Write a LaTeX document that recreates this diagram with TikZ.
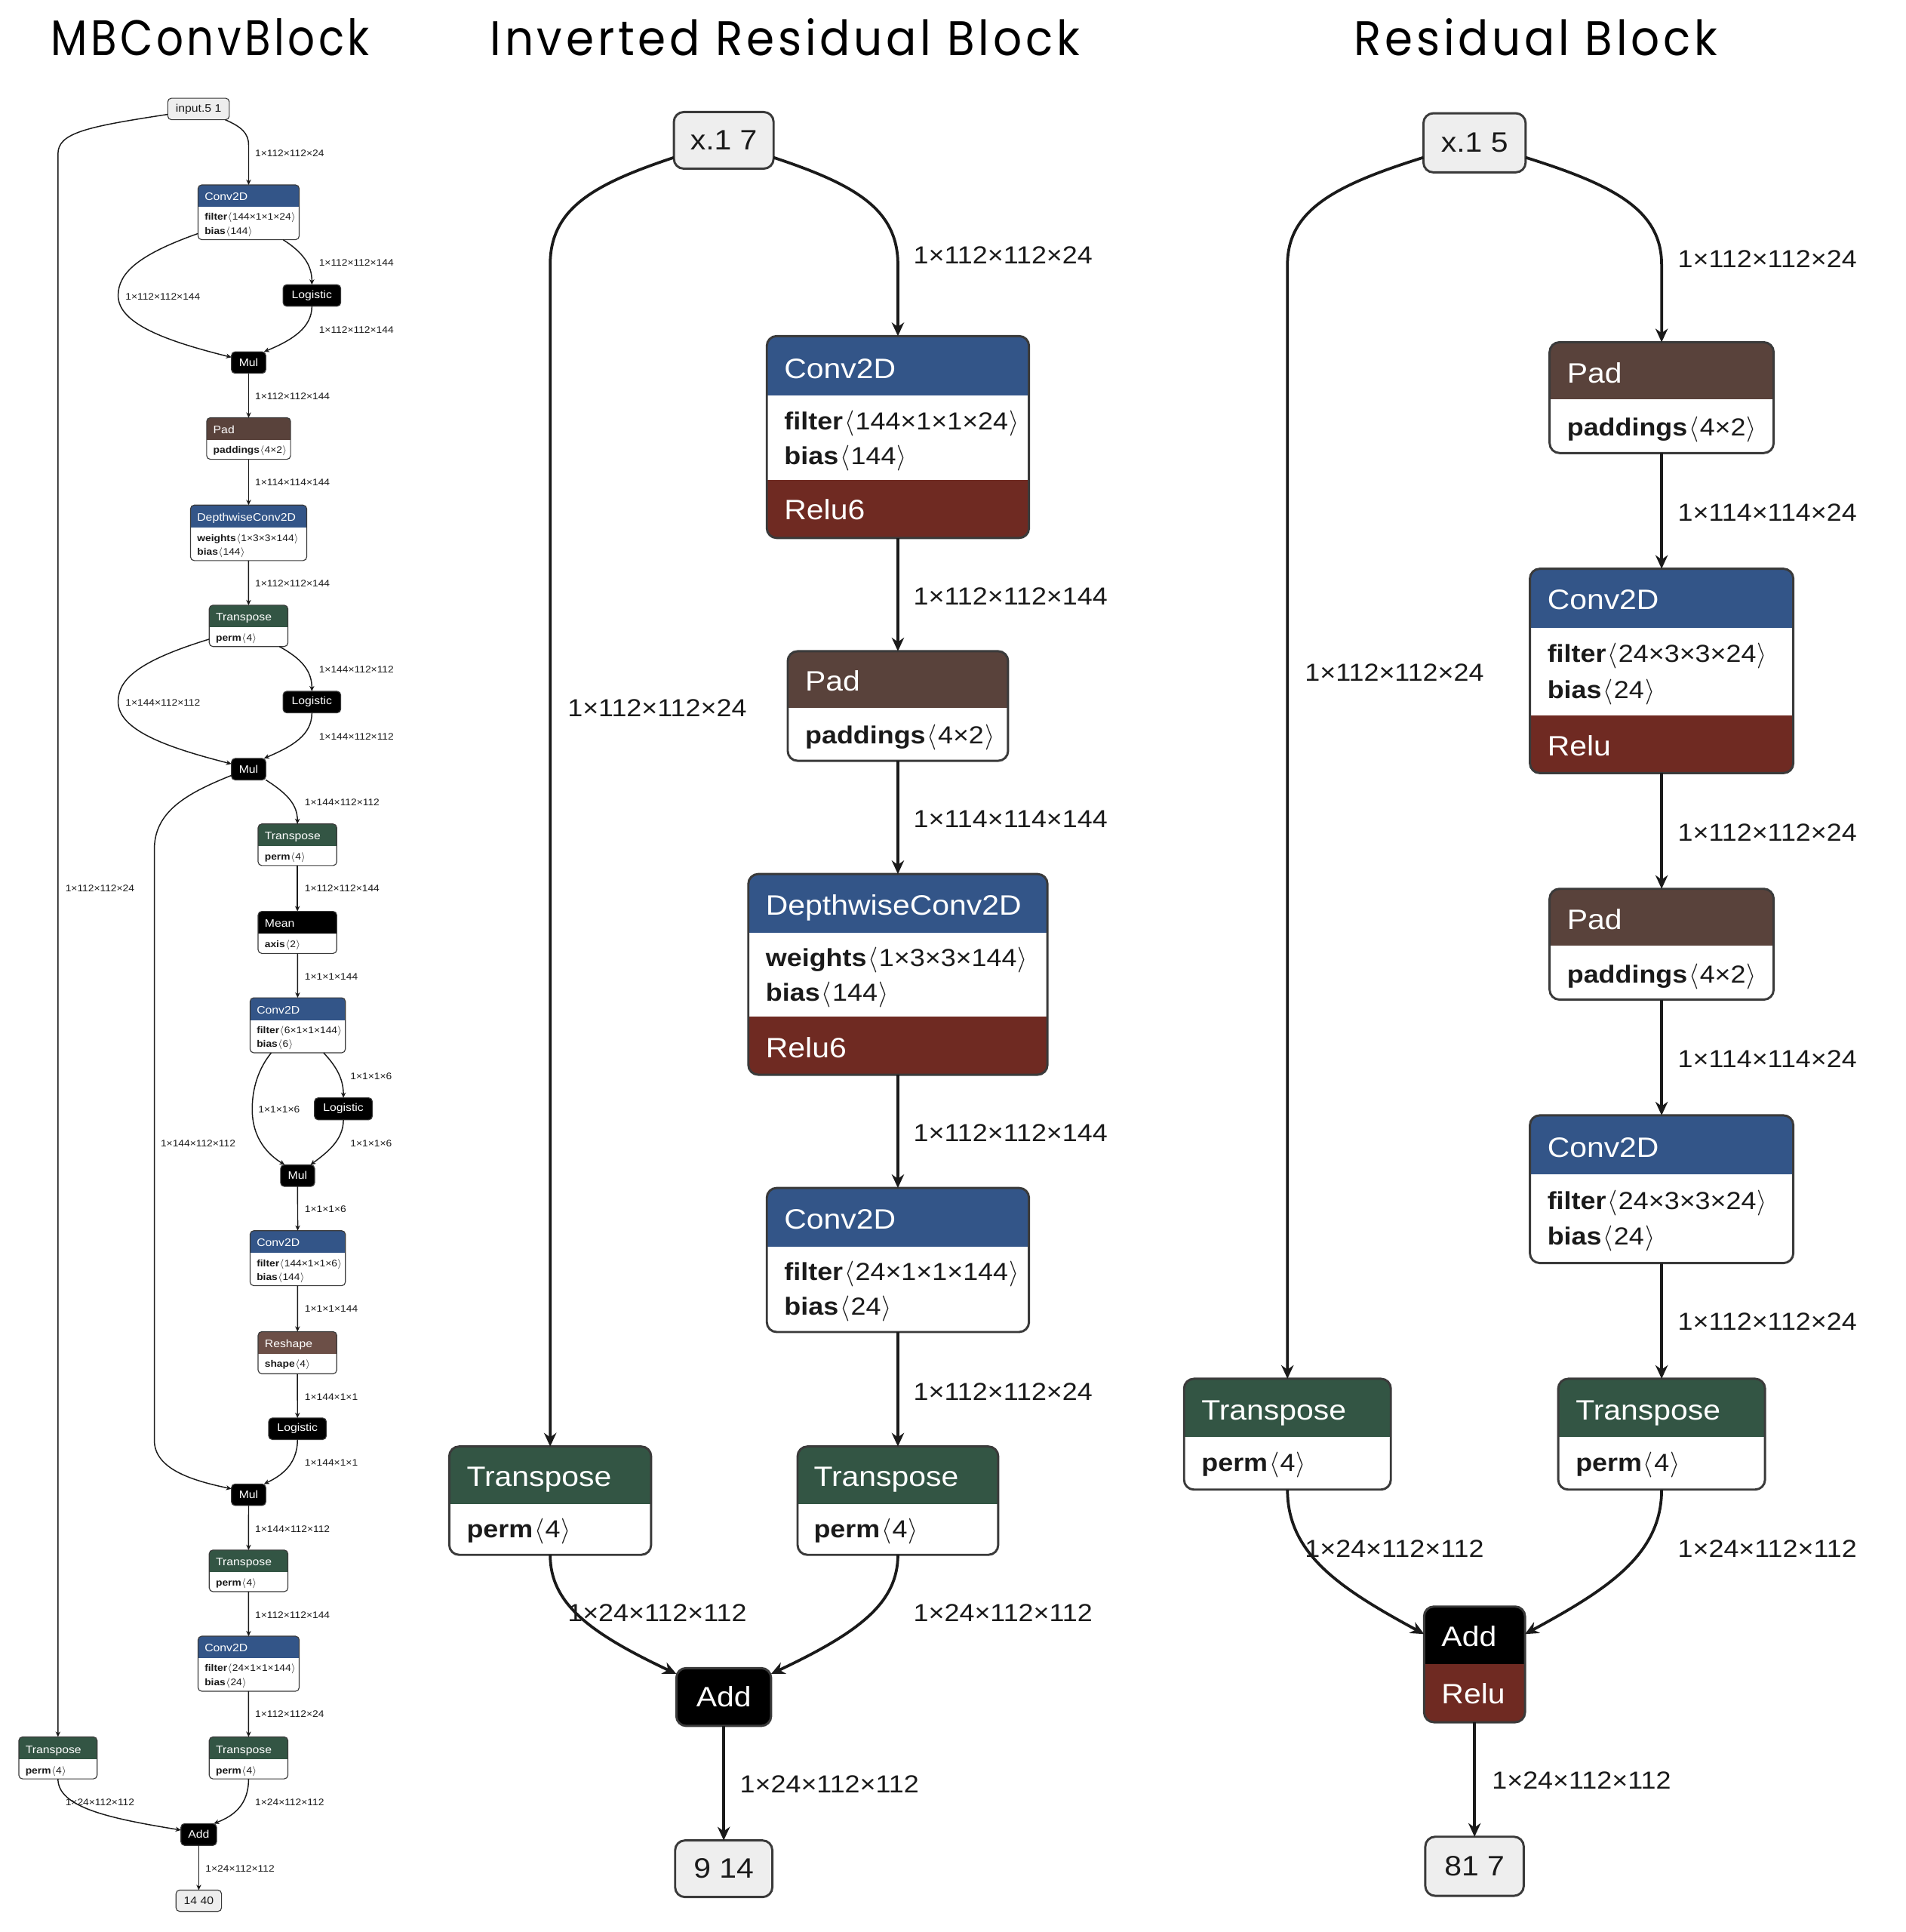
\documentclass[tikz,border=0pt]{standalone}
\usepackage{fontspec}
\usepackage{graphicx}
\setmainfont[FakeStretch=1.1]{Liberation Sans}
\newfontfamily\titlefont[LetterSpace=8]{Poppins}
\usetikzlibrary{arrows.meta}
\definecolor{cblue}{HTML}{335588}
\definecolor{cred}{HTML}{6F2A22}
\definecolor{ctensor}{HTML}{59423B}
\definecolor{cshape}{HTML}{6C4F47}
\definecolor{cgreen}{HTML}{335544}
\definecolor{iofill}{HTML}{EEEEEE}
\definecolor{bord}{HTML}{3A3A3A}
\definecolor{ink}{HTML}{1A1A1A}
\newcommand\att[2]{\textbf{#1}\kern0.06em$\langle$\kern0.04em#2\kern0.04em$\rangle$}
\newcommand\boxnode[6]{\node[#6, minimum width={#4-#2}, minimum height={#5-#3}] (#1) at ({(#2+#4)/2},{(#3+#5)/2}) {};}
\newcommand\band[5]{\begin{scope}\clip[rounded corners=#5] (#1.north west) rectangle (#1.south east);
  \fill[#4] (#1.west |- 0,#2) rectangle (#1.east |- 0,#3);\end{scope}}
\newcommand\outline[3]{\draw[#2, rounded corners=#3] (#1.north west) rectangle (#1.south east);}
\tikzset{
  mbox/.style={fill=white, rounded corners=8pt, inner sep=0pt, outer sep=0pt},
  sbox/.style={fill=white, rounded corners=3pt, inner sep=0pt, outer sep=0pt},
  mline/.style={draw=bord, line width=1.8pt},
  sline/.style={draw=bord, line width=0.7pt},
  mhd/.style={anchor=base west, inner sep=0pt, text=white, font=\fontsize{22.8}{27}\selectfont},
  matt/.style={anchor=base west, inner sep=0pt, text=ink, font=\fontsize{20}{24}\selectfont},
  mlab/.style={anchor=base west, inner sep=0pt, text=ink, font=\fontsize{20}{24}\selectfont},
  shd/.style={anchor=base west, inner sep=0pt, text=white, font=\fontsize{8.8}{10}\selectfont},
  satt/.style={anchor=base west, inner sep=0pt, text=ink, font=\fontsize{7.7}{9}\selectfont},
  slab/.style={anchor=base west, inner sep=0pt, text=ink, font=\fontsize{7.7}{9}\selectfont},
  mio/.style={fill=iofill, draw=bord, line width=1.8pt, rounded corners=8pt, inner sep=0pt, outer sep=0pt, text=ink, font=\fontsize{22.8}{27}\selectfont},
  sio/.style={fill=iofill, draw=bord, line width=0.7pt, rounded corners=3pt, inner sep=0pt, outer sep=0pt, text=ink, font=\fontsize{8.8}{10}\selectfont},
  mblk/.style={fill=black, draw=bord, line width=1.8pt, rounded corners=8pt, inner sep=0pt, outer sep=0pt, text=white, font=\fontsize{22.8}{27}\selectfont},
  sblk/.style={fill=black, draw=bord, line width=0.7pt, rounded corners=3pt, inner sep=0pt, outer sep=0pt, text=white, font=\fontsize{8.8}{10}\selectfont},
  medge/.style={draw=ink, line width=2.3pt, -{Stealth[length=11pt,width=10pt,inset=3.5pt]}},
  sedge/.style={draw=ink, line width=0.9pt, -{Stealth[length=4.3pt,width=3.9pt,inset=1.3pt]}},
  ttl/.style={anchor=base west, inner sep=0pt, text=black}
}
\begin{document}
\begin{tikzpicture}[x=1pt,y=-1pt]
\useasboundingbox[fill=white] (0,0) rectangle (1548,1569.4);
% ---------------- titles
\node[ttl] (ttl1) at (41,45) {\resizebox{259pt}{30pt}{\titlefont MBConvBlock}};
\node[ttl] (ttl2) at (398,45) {\resizebox{479pt}{30pt}{\titlefont Inverted Residual Block}};
\node[ttl] (ttl3) at (1100,45) {\resizebox{295pt}{30pt}{\titlefont Residual Block}};

% ================= MIDDLE: Inverted Residual Block
\node[mio, minimum width=81pt, minimum height=46pt] (m_in) at (588,114) {x.1 7};
\boxnode{m_conv1}{623}{273}{836}{437}{mbox}
\band{m_conv1}{273}{321}{cblue}{8pt}
\band{m_conv1}{390}{437}{cred}{8pt}
\outline{m_conv1}{mline}{8pt}
\node[mhd] (m_conv1_t) at (637,307.2) {Conv2D};
\node[matt] (m_conv1_a) at (637,349.2) {\att{filter}{144×1×1×24}};
\node[matt] (m_conv1_b) at (637,377.2) {\att{bias}{144}};
\node[mhd] (m_conv1_r) at (637,422.2) {Relu6};

\boxnode{m_pad}{640}{529}{819}{618}{mbox}
\band{m_pad}{529}{575}{ctensor}{8pt}
\outline{m_pad}{mline}{8pt}
\node[mhd] (m_pad_t) at (654,561.2) {Pad};
\node[matt] (m_pad_a) at (654,604.2) {\att{paddings}{4×2}};

\boxnode{m_dw}{608}{710}{851}{873}{mbox}
\band{m_dw}{710}{758}{cblue}{8pt}
\band{m_dw}{826}{873}{cred}{8pt}
\outline{m_dw}{mline}{8pt}
\node[mhd] (m_dw_t) at (622,743.2) {DepthwiseConv2D};
\node[matt] (m_dw_a) at (622,785.2) {\att{weights}{1×3×3×144}};
\node[matt] (m_dw_b) at (622,813.2) {\att{bias}{144}};
\node[mhd] (m_dw_r) at (622,859.2) {Relu6};

\boxnode{m_conv2}{623}{965}{836}{1082}{mbox}
\band{m_conv2}{965}{1013}{cblue}{8pt}
\outline{m_conv2}{mline}{8pt}
\node[mhd] (m_conv2_t) at (637,998.2) {Conv2D};
\node[matt] (m_conv2_a) at (637,1040.2) {\att{filter}{24×1×1×144}};
\node[matt] (m_conv2_b) at (637,1068.2) {\att{bias}{24}};

\boxnode{m_trR}{648}{1175}{811}{1263}{mbox}
\band{m_trR}{1175}{1222}{cgreen}{8pt}
\outline{m_trR}{mline}{8pt}
\node[mhd] (m_trR_t) at (661,1207.2) {Transpose};
\node[matt] (m_trR_a) at (661,1249.2) {\att{perm}{4}};

\boxnode{m_trL}{365}{1175}{529}{1263}{mbox}
\band{m_trL}{1175}{1222}{cgreen}{8pt}
\outline{m_trL}{mline}{8pt}
\node[mhd] (m_trL_t) at (379,1207.2) {Transpose};
\node[matt] (m_trL_a) at (379,1249.2) {\att{perm}{4}};

\node[mblk, minimum width=77pt, minimum height=47pt] (m_add) at (588,1378.5) {Add};
\node[mio, minimum width=79pt, minimum height=46pt] (m_out) at (588,1518) {9 14};

\draw[medge] (m_in.-19) .. controls (695,150) and (729.5,170) .. (729.5,215) -- (m_conv1.north);
\draw[medge] (m_in.199) .. controls (481,150) and (447,170) .. (447,215) -- (m_trL.north);
\draw[medge] (m_conv1) -- (m_pad);
\draw[medge] (m_pad) -- (m_dw);
\draw[medge] (m_dw) -- (m_conv2);
\draw[medge] (m_conv2) -- (m_trR);
\draw[medge] (m_trL.south) .. controls (447,1302) and (478,1326) .. (m_add.154);
\draw[medge] (m_trR.south) .. controls (729.5,1302) and (698,1326) .. (m_add.26);
\draw[medge] (m_add) -- (m_out);

\node[mlab] (m_l1) at (742,214.2) {1×112×112×24};
\node[mlab] (m_l2) at (742,491.2) {1×112×112×144};
\node[mlab] (m_l3) at (742,672.2) {1×114×114×144};
\node[mlab] (m_l4) at (742,927.2) {1×112×112×144};
\node[mlab] (m_l5) at (742,1137.2) {1×112×112×24};
\node[mlab] (m_l6) at (461,582.2) {1×112×112×24};
\node[mlab] (m_l7) at (461,1317.2) {1×24×112×112};
\node[mlab] (m_l8) at (742,1317.2) {1×24×112×112};
\node[mlab] (m_l9) at (601,1456.2) {1×24×112×112};

% ================= RIGHT: Residual Block
\node[mio, minimum width=83pt, minimum height=48pt] (r_in) at (1198,116) {x.1 5};
\boxnode{r_pad1}{1259}{278}{1441}{368}{mbox}
\band{r_pad1}{278}{324}{ctensor}{8pt}
\outline{r_pad1}{mline}{8pt}
\node[mhd] (r_pad1_t) at (1273,311.2) {Pad};
\node[matt] (r_pad1_a) at (1273,354.2) {\att{paddings}{4×2}};

\boxnode{r_conv1}{1243}{462}{1457}{628}{mbox}
\band{r_conv1}{462}{510}{cblue}{8pt}
\band{r_conv1}{581}{628}{cred}{8pt}
\outline{r_conv1}{mline}{8pt}
\node[mhd] (r_conv1_t) at (1257,495.2) {Conv2D};
\node[matt] (r_conv1_a) at (1257,538.2) {\att{filter}{24×3×3×24}};
\node[matt] (r_conv1_b) at (1257,567.2) {\att{bias}{24}};
\node[mhd] (r_conv1_r) at (1257,614.2) {Relu};

\boxnode{r_pad2}{1259}{722}{1441}{812}{mbox}
\band{r_pad2}{722}{768}{ctensor}{8pt}
\outline{r_pad2}{mline}{8pt}
\node[mhd] (r_pad2_t) at (1273,755.2) {Pad};
\node[matt] (r_pad2_a) at (1273,798.2) {\att{paddings}{4×2}};

\boxnode{r_conv2}{1243}{906}{1457}{1026}{mbox}
\band{r_conv2}{906}{954}{cblue}{8pt}
\outline{r_conv2}{mline}{8pt}
\node[mhd] (r_conv2_t) at (1257,940.2) {Conv2D};
\node[matt] (r_conv2_a) at (1257,982.2) {\att{filter}{24×3×3×24}};
\node[matt] (r_conv2_b) at (1257,1011.2) {\att{bias}{24}};

\boxnode{r_trR}{1266}{1120}{1434}{1210}{mbox}
\band{r_trR}{1120}{1167}{cgreen}{8pt}
\outline{r_trR}{mline}{8pt}
\node[mhd] (r_trR_t) at (1280,1153.2) {Transpose};
\node[matt] (r_trR_a) at (1280,1195.2) {\att{perm}{4}};

\boxnode{r_trL}{962}{1120}{1130}{1210}{mbox}
\band{r_trL}{1120}{1167}{cgreen}{8pt}
\outline{r_trL}{mline}{8pt}
\node[mhd] (r_trL_t) at (976,1153.2) {Transpose};
\node[matt] (r_trL_a) at (976,1195.2) {\att{perm}{4}};

\boxnode{r_add}{1157}{1305}{1239}{1399}{mbox}
\band{r_add}{1305}{1352}{black}{8pt}
\band{r_add}{1352}{1399}{cred}{8pt}
\outline{r_add}{mline}{8pt}
\node[mhd] (r_add_t) at (1171,1337.2) {Add};
\node[mhd] (r_add_r) at (1171,1384.2) {Relu};

\node[mio, minimum width=80pt, minimum height=48pt] (r_out) at (1198,1516) {81 7};

\draw[medge] (r_in.-16) .. controls (1310,150) and (1350,170) .. (1350,215) -- (r_pad1.north);
\draw[medge] (r_in.196) .. controls (1086,150) and (1046,170) .. (1046,215) -- (r_trL.north);
\draw[medge] (r_pad1) -- (r_conv1);
\draw[medge] (r_conv1) -- (r_pad2);
\draw[medge] (r_pad2) -- (r_conv2);
\draw[medge] (r_conv2) -- (r_trR);
\draw[medge] (r_trL.south) .. controls (1046,1262) and (1088,1290) .. (r_add.149);
\draw[medge] (r_trR.south) .. controls (1350,1262) and (1308,1290) .. (r_add.31);
\draw[medge] (r_add) -- (r_out);

\node[mlab] (r_l1) at (1363,217.2) {1×112×112×24};
\node[mlab] (r_l2) at (1363,423.2) {1×114×114×24};
\node[mlab] (r_l3) at (1363,683.2) {1×112×112×24};
\node[mlab] (r_l4) at (1363,867.2) {1×114×114×24};
\node[mlab] (r_l5) at (1363,1080.2) {1×112×112×24};
\node[mlab] (r_l6) at (1060,553.2) {1×112×112×24};
\node[mlab] (r_l7) at (1060,1265.2) {1×24×112×112};
\node[mlab] (r_l8) at (1363,1265.2) {1×24×112×112};
\node[mlab] (r_l9) at (1212,1453.2) {1×24×112×112};

% ================= LEFT: MBConvBlock
\node[sio, minimum width=50pt, minimum height=17.5pt] (L_in) at (161.3,88.5) {input.5 1};

\boxnode{L_conv1}{160.9}{150.2}{243.1}{194.7}{sbox}
\band{L_conv1}{150.2}{168.1}{cblue}{3pt}
\outline{L_conv1}{sline}{3pt}
\node[shd] (L_conv1_t) at (166.1,163) {Conv2D};
\node[satt] (L_conv1_a) at (166.1,179) {\att{filter}{144×1×1×24}};
\node[satt] (L_conv1_b) at (166.1,190.1) {\att{bias}{144}};

\node[sblk, minimum width=46.9pt, minimum height=17.5pt] (L_log1) at (253.4,240) {Logistic};
\node[sblk, minimum width=27.9pt, minimum height=17.5pt] (L_mul1) at (202,294.5) {Mul};

\boxnode{L_pad}{167.9}{339.3}{236.1}{373.1}{sbox}
\band{L_pad}{339.3}{357.1}{ctensor}{3pt}
\outline{L_pad}{sline}{3pt}
\node[shd] (L_pad_t) at (173.1,352.3) {Pad};
\node[satt] (L_pad_a) at (173.1,368.2) {\att{paddings}{4×2}};

\boxnode{L_dw}{154.8}{410.3}{249.2}{455.4}{sbox}
\band{L_dw}{410.3}{428.4}{cblue}{3pt}
\outline{L_dw}{sline}{3pt}
\node[shd] (L_dw_t) at (160,423.3) {DepthwiseConv2D};
\node[satt] (L_dw_a) at (160,439.7) {\att{weights}{1×3×3×144}};
\node[satt] (L_dw_b) at (160,450.8) {\att{bias}{144}};

\boxnode{L_tr1}{170}{491.6}{233.9}{525.2}{sbox}
\band{L_tr1}{491.6}{509.5}{cgreen}{3pt}
\outline{L_tr1}{sline}{3pt}
\node[shd] (L_tr1_t) at (175.2,504) {Transpose};
\node[satt] (L_tr1_a) at (175.2,520.6) {\att{perm}{4}};

\node[sblk, minimum width=46.9pt, minimum height=17.5pt] (L_log2) at (253.4,570.3) {Logistic};
\node[sblk, minimum width=27.9pt, minimum height=17.5pt] (L_mul2) at (202,624.8) {Mul};

\boxnode{L_tr2}{209.7}{669.3}{273.6}{703.1}{sbox}
\band{L_tr2}{669.3}{687.4}{cgreen}{3pt}
\outline{L_tr2}{sline}{3pt}
\node[shd] (L_tr2_t) at (214.9,682.3) {Transpose};
\node[satt] (L_tr2_a) at (214.9,698.7) {\att{perm}{4}};

\boxnode{L_mean}{209.7}{740.3}{273.6}{774.5}{sbox}
\band{L_mean}{740.3}{758.2}{black}{3pt}
\outline{L_mean}{sline}{3pt}
\node[shd] (L_mean_t) at (214.9,753.3) {Mean};
\node[satt] (L_mean_a) at (214.9,769.7) {\att{axis}{2}};

\boxnode{L_conv2}{203.2}{810.5}{280.6}{855.2}{sbox}
\band{L_conv2}{810.5}{828.6}{cblue}{3pt}
\outline{L_conv2}{sline}{3pt}
\node[shd] (L_conv2_t) at (208.4,823.5) {Conv2D};
\node[satt] (L_conv2_a) at (208.4,839.5) {\att{filter}{6×1×1×144}};
\node[satt] (L_conv2_b) at (208.4,850.8) {\att{bias}{6}};

\node[sblk, minimum width=47pt, minimum height=17.9pt] (L_log3) at (279,900.7) {Logistic};
\node[sblk, minimum width=27.7pt, minimum height=17.5pt] (L_mul3) at (241.8,955) {Mul};

\boxnode{L_conv3}{203.2}{999.7}{280.6}{1044.4}{sbox}
\band{L_conv3}{999.7}{1017.6}{cblue}{3pt}
\outline{L_conv3}{sline}{3pt}
\node[shd] (L_conv3_t) at (208.4,1012.5) {Conv2D};
\node[satt] (L_conv3_a) at (208.4,1028.7) {\att{filter}{144×1×1×6}};
\node[satt] (L_conv3_b) at (208.4,1040) {\att{bias}{144}};

\boxnode{L_resh}{209.7}{1081.7}{273.6}{1115.9}{sbox}
\band{L_resh}{1081.7}{1100}{cshape}{3pt}
\outline{L_resh}{sline}{3pt}
\node[shd] (L_resh_t) at (214.9,1094.7) {Reshape};
\node[satt] (L_resh_a) at (214.9,1110.6) {\att{shape}{4}};

\node[sblk, minimum width=46.9pt, minimum height=17.5pt] (L_log4) at (241.7,1160.6) {Logistic};
\node[sblk, minimum width=27.9pt, minimum height=17.5pt] (L_mul4) at (202,1214.2) {Mul};

\boxnode{L_tr3}{170}{1259.1}{233.9}{1292.9}{sbox}
\band{L_tr3}{1259.1}{1277.2}{cgreen}{3pt}
\outline{L_tr3}{sline}{3pt}
\node[shd] (L_tr3_t) at (175.2,1271.7) {Transpose};
\node[satt] (L_tr3_a) at (175.2,1288.1) {\att{perm}{4}};

\boxnode{L_conv4}{160.9}{1329.1}{243.1}{1373.8}{sbox}
\band{L_conv4}{1329.1}{1347}{cblue}{3pt}
\outline{L_conv4}{sline}{3pt}
\node[shd] (L_conv4_t) at (166.1,1341.9) {Conv2D};
\node[satt] (L_conv4_a) at (166.1,1357.8) {\att{filter}{24×1×1×144}};
\node[satt] (L_conv4_b) at (166.1,1369) {\att{bias}{24}};

\boxnode{L_tr4}{170}{1410.9}{233.9}{1445}{sbox}
\band{L_tr4}{1410.9}{1429.3}{cgreen}{3pt}
\outline{L_tr4}{sline}{3pt}
\node[shd] (L_tr4_t) at (175.2,1424.1) {Transpose};
\node[satt] (L_tr4_a) at (175.2,1440.7) {\att{perm}{4}};

\boxnode{L_tr5}{15.3}{1410.9}{78.9}{1445}{sbox}
\band{L_tr5}{1410.9}{1429.3}{cgreen}{3pt}
\outline{L_tr5}{sline}{3pt}
\node[shd] (L_tr5_t) at (20.5,1424.1) {Transpose};
\node[satt] (L_tr5_a) at (20.5,1440.7) {\att{perm}{4}};

\node[sblk, minimum width=29pt, minimum height=17.7pt] (L_add) at (161.5,1490.2) {Add};
\node[sio, minimum width=37pt, minimum height=17.3pt] (L_out) at (161.5,1544) {14 40};

% left edges
\draw[sedge] (L_in.-22) .. controls (196,103) and (202,108) .. (202,118) -- (L_conv1.north);
\draw[sedge] (L_in.190) .. controls (70,103) and (47.1,108) .. (47.1,125) -- (L_tr5.north);
\draw[sedge] ([xshift=28pt]L_conv1.south) .. controls (246,205) and (253.4,215) .. (L_log1.north);
\draw[sedge] ([yshift=5pt]L_conv1.south west) .. controls (112,207) and (96,222) .. (96,240) .. controls (96,263) and (135,277) .. (L_mul1.163);
\draw[sedge] (L_log1.south) .. controls (253.4,266) and (238,276) .. (L_mul1.35);
\draw[sedge] (L_mul1) -- (L_pad);
\draw[sedge] (L_pad) -- (L_dw);
\draw[sedge] (L_dw) -- (L_tr1);
\draw[sedge] ([xshift=25pt]L_tr1.south) .. controls (245,535) and (253.4,545) .. (L_log2.north);
\draw[sedge] ([yshift=6pt]L_tr1.south west) .. controls (112,537) and (96,552) .. (96,570) .. controls (96,593) and (135,607) .. (L_mul2.163);
\draw[sedge] (L_log2.south) .. controls (253.4,597) and (238,606) .. (L_mul2.35);
\draw[sedge] (L_mul2.-32) .. controls (234,645) and (241.7,654) .. (L_tr2.north);
\draw[sedge] (L_mul2.200) .. controls (150,645) and (125.4,660) .. (125.4,690) -- (125.4,1170) .. controls (125.4,1194) and (158,1203) .. (L_mul4.161);
\draw[sedge] (L_tr2) -- (L_mean);
\draw[sedge] (L_mean) -- (L_conv2);
\draw[sedge] ([xshift=21pt]L_conv2.south) .. controls (273,866) and (279,876) .. (L_log3.north);
\draw[sedge] ([xshift=-21.5pt]L_conv2.south) .. controls (210,868) and (204.9,884) .. (204.9,901) .. controls (204.9,925) and (218,938) .. (L_mul3.140);
\draw[sedge] (L_log3.south) .. controls (279,926) and (266,936) .. (L_mul3.40);
\draw[sedge] (L_mul3) -- (L_conv3);
\draw[sedge] (L_conv3) -- (L_resh);
\draw[sedge] (L_resh) -- (L_log4);
\draw[sedge] (L_log4.south) .. controls (241.7,1190) and (228,1199) .. (L_mul4.35);
\draw[sedge] (L_mul4) -- (L_tr3);
\draw[sedge] (L_tr3) -- (L_conv4);
\draw[sedge] (L_conv4) -- (L_tr4);
\draw[sedge] (L_tr5.south) .. controls (47.1,1468) and (88,1477) .. (L_add.166);
\draw[sedge] (L_tr4.south) .. controls (202,1466) and (190,1475) .. (L_add.36);
\draw[sedge] (L_add) -- (L_out);

% left labels
\node[slab] (L_l1) at (207.1,127.3) {1×112×112×24};
\node[slab] (L_l2) at (259,216.3) {1×112×112×144};
\node[slab] (L_l3) at (101.8,243.5) {1×112×112×144};
\node[slab] (L_l4) at (259,270.8) {1×112×112×144};
\node[slab] (L_l5) at (207.1,324.6) {1×112×112×144};
\node[slab] (L_l6) at (207.1,394.4) {1×114×114×144};
\node[slab] (L_l7) at (207.1,476.8) {1×112×112×144};
\node[slab] (L_l8) at (259,546.7) {1×144×112×112};
\node[slab] (L_l9) at (101.8,573.8) {1×144×112×112};
\node[slab] (L_l10) at (259,601.2) {1×144×112×112};
\node[slab] (L_l11) at (247.4,654.6) {1×144×112×112};
\node[slab] (L_l12) at (53,724.4) {1×112×112×24};
\node[slab] (L_l13) at (247.4,724.4) {1×112×112×144};
\node[slab] (L_l14) at (247.4,795.9) {1×1×1×144};
\node[slab] (L_l15) at (284.5,877) {1×1×1×6};
\node[slab] (L_l16) at (209.7,904.2) {1×1×1×6};
\node[slab] (L_l17) at (284.5,931.5) {1×1×1×6};
\node[slab] (L_l18) at (130.4,931.5) {1×144×112×112};
\node[slab] (L_l19) at (247.4,984.9) {1×1×1×6};
\node[slab] (L_l20) at (247.4,1065.8) {1×1×1×144};
\node[slab] (L_l21) at (247.4,1137.2) {1×144×1×1};
\node[slab] (L_l22) at (247.4,1190.6) {1×144×1×1};
\node[slab] (L_l23) at (207.1,1244.5) {1×144×112×112};
\node[slab] (L_l24) at (207.1,1314.5) {1×112×112×144};
\node[slab] (L_l25) at (207.1,1395.1) {1×112×112×24};
\node[slab] (L_l26) at (53,1466.8) {1×24×112×112};
\node[slab] (L_l27) at (207.1,1466.8) {1×24×112×112};
\node[slab] (L_l28) at (166.8,1520.6) {1×24×112×112};
\end{tikzpicture}
\end{document}
